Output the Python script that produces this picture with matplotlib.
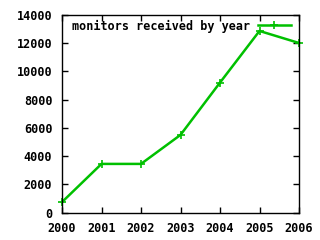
import matplotlib
matplotlib.use("Agg")
import matplotlib.pyplot as plt

years = [2000, 2001, 2002, 2003, 2004, 2005, 2006]
monitors = [750, 3450, 3450, 5500, 9200, 12850, 12000]
xticks = [2000, 2001, 2002, 2003, 2004, 2005, 2006]
yticks = [0, 2000, 4000, 6000, 8000, 10000, 12000, 14000]
label = "monitors received by year"

plt.rcParams['font.family'] = ['DejaVu Sans Mono']
plt.rcParams['font.weight'] = 'bold'

fig = plt.figure(figsize=(3.2, 2.4), dpi=100)
ax = fig.add_axes([62/320, 1-212.7/240, (299-62)/320, (212.7-14.7)/240])
ax.plot(years, monitors, color='#00c000', lw=1.8, marker='+', ms=6, mew=1.2, label=label, clip_on=False)
ax.set_xlim(2000, 2006)
ax.set_ylim(0, 14000)
ax.set_xticks(xticks)
ax.set_xticklabels([str(v) for v in xticks])
ax.set_yticks(yticks)
ax.set_yticklabels([str(v) for v in yticks])
ax.tick_params(direction='in', length=4, width=1, top=True, right=True, labelsize=8.5)
ax.tick_params(axis='x', pad=6.5)
ax.tick_params(axis='y', pad=7)
for lab in ax.get_xticklabels() + ax.get_yticklabels():
    lab.set_fontweight('bold')
for s in ax.spines.values():
    s.set_linewidth(1)
leg = ax.legend(loc='upper right', frameon=False, markerfirst=False,
                handlelength=2.8, borderaxespad=0.0, handletextpad=0.6,
                bbox_to_anchor=(0.985, 1.0),
                prop={'weight': 'bold', 'size': 8.5})
fig.savefig("out.png", dpi=100)
